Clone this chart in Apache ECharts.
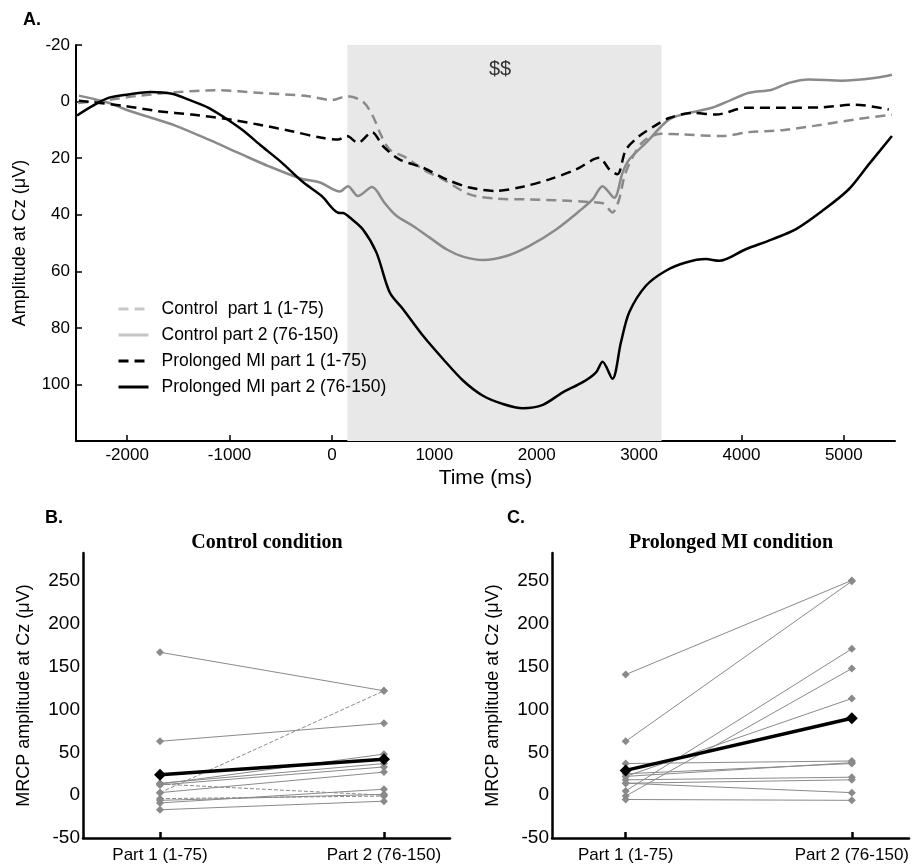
<!DOCTYPE html>
<html><head><meta charset="utf-8">
<script src="https://cdn.jsdelivr.net/npm/echarts@6/dist/echarts.min.js"></script>
<style>html,body{margin:0;padding:0;background:#fff}#c{width:912px;height:868px}</style>
</head><body><div id="c"></div>
<script>
// ---------- Panel A data ----------
const timeTicks = [-2000, -1000, 0, 1000, 2000, 3000, 4000, 5000];
const ampTicks = [-20, 0, 20, 40, 60, 80, 100];
const shadeWindow = [150, 3220];
const seriesNames = ['Control  part 1 (1-75)', 'Control part 2 (76-150)', 'Prolonged MI part 1 (1-75)', 'Prolonged MI part 2 (76-150)'];

const control1 = [[-2480,0.5],[-2200,-0.5],[-1900,-2],[-1530,-3.3],[-1140,-4],[-680,-3],[-230,-1.9],[0,-0.5],[147,-1.9],[303,0],[400,5.2],[484,12.2],[565,17],[728,19.9],[890,24],[1085,27.5],[1345,32.8],[1605,34.3],[1930,34.6],[2255,35],[2515,35.5],[2650,36],[2740,39.2],[2805,34.6],[2870,25],[3030,14.5],[3213,11.4],[3420,11.6],[3810,12.2],[4075,10.8],[4400,10.1],[4723,8.5],[5113,6.3],[5470,4.6]];
const control2 = [[-2472,-2.1],[-2183,0.4],[-2017,2.8],[-1757,5.8],[-1530,8.5],[-1208,13.4],[-880,18.7],[-622,22.8],[-296,27.3],[-117,28.6],[78,31.8],[156,29.9],[254,33.4],[391,30.2],[518,36],[630,40.4],[792,44],[955,48.1],[1118,52.2],[1280,54.8],[1475,56],[1703,54.6],[1930,51],[2190,45.2],[2417,38.7],[2546,34.6],[2643,29.9],[2758,34],[2838,25.2],[2904,20.5],[3067,14.6],[3294,6.3],[3489,4],[3713,2.2],[3908,-0.7],[4074,-3.1],[4298,-4.2],[4464,-6.6],[4659,-7.8],[4980,-7.4],[5309,-8.4],[5470,-9.5]];
const mi1 = [[-2472,-0.3],[-2017,1.6],[-1696,3.4],[-1368,4.6],[-1043,6.1],[-721,8.1],[-393,10.5],[-100,12.8],[60,13.4],[147,12.2],[254,14.6],[391,10.8],[500,15.8],[663,20.5],[890,23.4],[1118,27.5],[1345,30.4],[1605,31.6],[1865,30.1],[2125,27.5],[2385,24],[2612,19.9],[2710,24],[2788,25.7],[2872,17],[3002,12.2],[3148,8.7],[3294,5.8],[3519,4],[3750,4.6],[4042,2.2],[4400,2.2],[4788,2],[5113,1.1],[5439,2.8]];
const mi2 = [[-2490,4.9],[-2342,1.6],[-2183,-1.3],[-1988,-2.5],[-1774,-3.4],[-1563,-2.8],[-1400,-0.7],[-1205,2.2],[-1043,5.8],[-880,9.9],[-685,15.8],[-490,21.6],[-296,28.1],[-100,33.4],[62,39.3],[110,39.4],[175,41],[303,45.2],[435,53.4],[565,67.5],[695,73.4],[890,82.8],[1085,91],[1280,98.6],[1475,104],[1670,106.9],[1865,108.4],[2060,107.2],[2255,102.8],[2450,99.2],[2580,95.7],[2643,92],[2740,98],[2823,85.1],[2904,74.5],[3067,65.1],[3262,59.8],[3457,56.9],[3652,55.7],[3782,56.3],[4042,52.2],[4300,48.7],[4529,45.2],[4788,38.7],[5049,31],[5244,22.2],[5470,12.2]];

// ---------- Panels B / C data ----------
const partLabels = ['Part 1 (1-75)', 'Part 2 (76-150)'];
const mrcpTicks = [-50, 0, 50, 100, 150, 200, 250];
const controlPart1 = [167, 63, 3, 13, 14, 12, 3, 13, -4, -6, -9, -17];
const controlPart2 = [122, 84, 122, 48, 37, 33, 27, 0, -1, 1, 7, -7];
const controlDashedSubjects = [2, 7, 8];
const controlMean = [24, 42];
const miPart1 = [141, 63, 5, -1, 22, 37, 22, 25, 18, 14, 14, -5];
const miPart2 = [251, 250, 171, 148, 113, 40, 38, 37, 21, 18, 3, -6];
const miMean = [29, 90];

const SANS = 'Liberation Sans, Arial, sans-serif';
const SERIF = 'Liberation Serif, Times New Roman, serif';
const GRAY = '#8a8a8a';

const chart = echarts.init(document.getElementById('c'), null, {renderer: 'canvas'});

function subjectSeries(p1, p2, dashedIdx, mean, axisIdx) {
  const out = [];
  p1.forEach((v, i) => {
    out.push({
      type: 'line', xAxisIndex: axisIdx, yAxisIndex: axisIdx,
      data: [[1, v], [2, p2[i]]],
      symbol: 'diamond', symbolSize: 8,
      itemStyle: {color: GRAY},
      lineStyle: {color: GRAY, width: 1, type: dashedIdx.includes(i) ? [4, 2] : 'solid'},
      silent: true, z: 2
    });
  });
  out.push({
    type: 'line', xAxisIndex: axisIdx, yAxisIndex: axisIdx,
    data: [[1, mean[0]], [2, mean[1]]],
    symbol: 'diamond', symbolSize: 12,
    itemStyle: {color: '#000'},
    lineStyle: {color: '#000', width: 3.5},
    silent: true, z: 5
  });
  return out;
}

function lrAxisX(idx, min, max) {
  return {
    type: 'value', gridIndex: idx, min: min, max: max,
    axisLine: {show: true, onZero: false, lineStyle: {color: '#000', width: 2.5}},
    axisTick: {show: true, inside: true, length: 6, customValues: [1, 2], lineStyle: {color: '#000', width: 2.5}},
    axisLabel: {customValues: [1, 2], formatter: v => partLabels[Math.round(v) - 1], fontSize: 17, color: '#000', fontFamily: SANS, margin: 9},
    splitLine: {show: false}
  };
}
function lrAxisY(idx) {
  return {
    type: 'value', gridIndex: idx, min: -50, max: 283,
    axisLine: {show: true, onZero: false, lineStyle: {color: '#000', width: 2.5}},
    axisTick: {show: false},
    axisLabel: {customValues: mrcpTicks, formatter: v => String(v), fontSize: 19, color: '#000', fontFamily: SANS, margin: 3},
    splitLine: {show: false},
    name: 'MRCP amplitude at Cz (μV)', nameLocation: 'middle', nameGap: 50,
    nameTextStyle: {fontSize: 18, color: '#000', fontFamily: SANS}
  };
}

const hidden = {opacity: 0};
const option = {
  animation: false,
  backgroundColor: '#fff',
  grid: [
    {left: 76, top: 45, width: 819, height: 396},
    {left: 83, top: 553, width: 367, height: 285},
    {left: 552, top: 553, width: 358, height: 285}
  ],
  legend: {
    data: [
      {name: seriesNames[0], itemStyle: hidden, lineStyle: {color: '#c8c8c8', width: 3, type: [10, 6]}},
      {name: seriesNames[1], itemStyle: hidden, lineStyle: {color: '#c4c4c4', width: 3, type: 'solid'}},
      {name: seriesNames[2], itemStyle: hidden, lineStyle: {color: '#000', width: 3, type: [10, 6]}},
      {name: seriesNames[3], itemStyle: hidden, lineStyle: {color: '#000', width: 3, type: 'solid'}}
    ],
    itemStyle: hidden,
    orient: 'vertical', left: 117, top: 300, padding: 0,
    itemWidth: 30, itemHeight: 14, itemGap: 8,
    textStyle: {fontSize: 17.5, color: '#000', fontFamily: SANS, padding: [0, 0, 0, 8]},
    selectedMode: false
  },
  xAxis: [
    {
      type: 'value', gridIndex: 0, min: -2500, max: 5500,
      axisLine: {show: true, onZero: false, lineStyle: {color: '#000', width: 2}},
      axisTick: {show: true, inside: true, length: 6, customValues: timeTicks, lineStyle: {color: '#000', width: 1.5}},
      axisLabel: {customValues: timeTicks, formatter: v => String(v), fontSize: 17, color: '#000', fontFamily: SANS, margin: 6},
      splitLine: {show: false},
      name: 'Time (ms)', nameLocation: 'middle', nameGap: 27,
      nameTextStyle: {fontSize: 21, color: '#000', fontFamily: SANS}
    },
    lrAxisX(1, 0.656, 2.295),
    lrAxisX(2, 0.674, 2.253)
  ],
  yAxis: [
    {
      type: 'value', gridIndex: 0, min: -20, max: 120, inverse: true,
      axisLine: {show: true, onZero: false, lineStyle: {color: '#000', width: 2}},
      axisTick: {show: true, inside: true, length: 6, customValues: ampTicks, lineStyle: {color: '#000', width: 1.5}},
      axisLabel: {customValues: ampTicks, formatter: v => String(v), fontSize: 17, color: '#000', fontFamily: SANS, margin: 6},
      splitLine: {show: false},
      name: 'Amplitude at Cz (μV)', nameLocation: 'middle', nameGap: 47,
      nameTextStyle: {fontSize: 18, color: '#000', fontFamily: SANS}
    },
    lrAxisY(1),
    lrAxisY(2)
  ],
  graphic: [
    {type: 'text', left: 23, top: 11, style: {text: 'A.', font: 'bold 18px ' + SANS, fill: '#000'}},
    {type: 'text', left: 45, top: 509, style: {text: 'B.', font: 'bold 18px ' + SANS, fill: '#000'}},
    {type: 'text', left: 507, top: 509, style: {text: 'C.', font: 'bold 18px ' + SANS, fill: '#000'}},
    {type: 'text', x: 267, y: 543, style: {text: 'Control condition', font: 'bold 20px ' + SERIF, fill: '#000', textAlign: 'center', textVerticalAlign: 'middle'}},
    {type: 'text', x: 731, y: 543, style: {text: 'Prolonged MI condition', font: 'bold 20px ' + SERIF, fill: '#000', textAlign: 'center', textVerticalAlign: 'middle'}},
    {type: 'text', x: 500, y: 69, z: 10, style: {text: '$$', font: '20px ' + SANS, fill: '#333', textAlign: 'center', textVerticalAlign: 'middle'}}
  ],
  series: [
    {
      name: seriesNames[0], type: 'line', xAxisIndex: 0, yAxisIndex: 0, data: control1,
      symbol: 'none', smooth: 0.3, z: 3,
      lineStyle: {color: GRAY, width: 2.5, type: [10, 6]}, itemStyle: {color: GRAY},
      markArea: {silent: true, itemStyle: {color: '#e8e8e8'}, data: [[{xAxis: shadeWindow[0]}, {xAxis: shadeWindow[1]}]]}
    },
    {
      name: seriesNames[1], type: 'line', xAxisIndex: 0, yAxisIndex: 0, data: control2,
      symbol: 'none', smooth: 0.3, z: 3,
      lineStyle: {color: GRAY, width: 2.5}, itemStyle: {color: GRAY}
    },
    {
      name: seriesNames[2], type: 'line', xAxisIndex: 0, yAxisIndex: 0, data: mi1,
      symbol: 'none', smooth: 0.3, z: 4,
      lineStyle: {color: '#000', width: 2.5, type: [10, 6]}, itemStyle: {color: '#000'}
    },
    {
      name: seriesNames[3], type: 'line', xAxisIndex: 0, yAxisIndex: 0, data: mi2,
      symbol: 'none', smooth: 0.3, z: 4,
      lineStyle: {color: '#000', width: 2.5}, itemStyle: {color: '#000'}
    }
  ].concat(subjectSeries(controlPart1, controlPart2, controlDashedSubjects, controlMean, 1))
   .concat(subjectSeries(miPart1, miPart2, [], miMean, 2))
};
chart.setOption(option);
</script></body></html>
